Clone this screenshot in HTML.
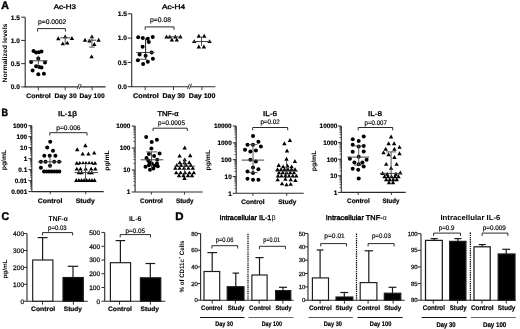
<!DOCTYPE html>
<html><head><meta charset="utf-8"><style>
html,body{margin:0;padding:0;background:#fff;}
svg{display:block;font-family:"Liberation Sans", sans-serif;filter:grayscale(1) blur(0.3px);text-rendering:geometricPrecision;}
</style></head><body>
<svg width="520" height="329" viewBox="0 0 520 329">
<rect width="520" height="329" fill="#fff"/>
<text x="1.30" y="8.70" font-size="10.8" font-weight="bold" fill="#000" textLength="7.70" lengthAdjust="spacingAndGlyphs" stroke="#000" stroke-width="0.45">A</text>
<text x="1.60" y="116.10" font-size="10.6" font-weight="bold" fill="#000" textLength="6.50" lengthAdjust="spacingAndGlyphs" stroke="#000" stroke-width="0.45">B</text>
<text x="1.40" y="219.80" font-size="11.2" font-weight="bold" fill="#000" textLength="7.60" lengthAdjust="spacingAndGlyphs" stroke="#000" stroke-width="0.45">C</text>
<text x="175.30" y="219.60" font-size="10.8" font-weight="bold" fill="#000" textLength="8.30" lengthAdjust="spacingAndGlyphs" stroke="#000" stroke-width="0.45">D</text>
<line x1="25.20" y1="17.15" x2="25.20" y2="86.90" stroke="#2a2a2a" stroke-width="1.1"/>
<line x1="24.70" y1="86.90" x2="105.60" y2="86.90" stroke="#2a2a2a" stroke-width="1.1"/>
<line x1="21.20" y1="86.90" x2="25.20" y2="86.90" stroke="#2a2a2a" stroke-width="1.0"/>
<text x="20.00" y="89.28" font-size="6.6" font-weight="bold" fill="#000" stroke="#000" stroke-width="0.18" text-anchor="end">0.0</text>
<line x1="21.20" y1="63.65" x2="25.20" y2="63.65" stroke="#2a2a2a" stroke-width="1.0"/>
<text x="20.00" y="66.03" font-size="6.6" font-weight="bold" fill="#000" stroke="#000" stroke-width="0.18" text-anchor="end">0.5</text>
<line x1="21.20" y1="40.40" x2="25.20" y2="40.40" stroke="#2a2a2a" stroke-width="1.0"/>
<text x="20.00" y="42.78" font-size="6.6" font-weight="bold" fill="#000" stroke="#000" stroke-width="0.18" text-anchor="end">1.0</text>
<line x1="21.20" y1="17.15" x2="25.20" y2="17.15" stroke="#2a2a2a" stroke-width="1.0"/>
<text x="20.00" y="19.53" font-size="6.6" font-weight="bold" fill="#000" stroke="#000" stroke-width="0.18" text-anchor="end">1.5</text>
<line x1="38.30" y1="86.90" x2="38.30" y2="90.30" stroke="#2a2a2a" stroke-width="0.9"/>
<line x1="65.20" y1="86.90" x2="65.20" y2="90.30" stroke="#2a2a2a" stroke-width="0.9"/>
<line x1="92.10" y1="86.90" x2="92.10" y2="90.30" stroke="#2a2a2a" stroke-width="0.9"/>
<text x="26.20" y="98.20" font-size="6.6" font-weight="bold" fill="#000" textLength="24.60" lengthAdjust="spacingAndGlyphs" stroke="#000" stroke-width="0.2">Control</text>
<text x="54.60" y="98.20" font-size="6.6" font-weight="bold" fill="#000" textLength="22.10" lengthAdjust="spacingAndGlyphs" stroke="#000" stroke-width="0.2">Day 30</text>
<text x="79.60" y="98.20" font-size="6.6" font-weight="bold" fill="#000" textLength="25.00" lengthAdjust="spacingAndGlyphs" stroke="#000" stroke-width="0.2">Day 100</text>
<text x="53.80" y="8.80" font-size="6.6" font-weight="normal" fill="#000" textLength="22.20" lengthAdjust="spacingAndGlyphs" stroke="#000" stroke-width="0.35">Ac-H3</text>
<text x="38.00" y="24.20" font-size="6.7" font-weight="normal" fill="#000" textLength="28.30" lengthAdjust="spacingAndGlyphs" stroke="#000" stroke-width="0.17">p=0.0002</text>
<path d="M37.60 31.50V28.60H65.40V31.50" fill="none" stroke="#2a2a2a" stroke-width="1.0"/>
<path d="M77.70 89.30L79.70 84.10L81.10 84.10L79.10 89.30Z" fill="#fff" stroke="none"/>
<path d="M77.10 89.30L79.30 83.90M79.10 89.30L81.30 83.90" stroke="#333" stroke-width="0.9" fill="none"/>
<circle cx="33.50" cy="51.00" r="2.0" fill="#000"/>
<circle cx="36.10" cy="52.50" r="2.0" fill="#000"/>
<circle cx="38.80" cy="52.30" r="2.0" fill="#000"/>
<circle cx="41.50" cy="51.40" r="2.0" fill="#000"/>
<circle cx="38.30" cy="58.60" r="2.0" fill="#000"/>
<circle cx="31.10" cy="62.10" r="2.0" fill="#000"/>
<circle cx="45.00" cy="62.60" r="2.0" fill="#000"/>
<circle cx="36.10" cy="66.30" r="2.0" fill="#000"/>
<circle cx="39.30" cy="66.90" r="2.0" fill="#000"/>
<circle cx="41.50" cy="67.40" r="2.0" fill="#000"/>
<circle cx="32.60" cy="70.40" r="2.0" fill="#000"/>
<circle cx="38.30" cy="74.30" r="2.0" fill="#000"/>
<circle cx="43.90" cy="73.80" r="2.0" fill="#000"/>
<line x1="29.50" y1="60.80" x2="47.50" y2="60.80" stroke="#444" stroke-width="1.0"/>
<line x1="38.30" y1="55.50" x2="38.30" y2="67.00" stroke="#444" stroke-width="0.9"/>
<path d="M58.30 36.26L60.50 40.16L56.10 40.16Z" fill="#000"/>
<path d="M65.20 34.46L67.40 38.36L63.00 38.36Z" fill="#000"/>
<path d="M71.90 36.06L74.10 39.96L69.70 39.96Z" fill="#000"/>
<path d="M62.80 41.46L65.00 45.36L60.60 45.36Z" fill="#000"/>
<path d="M67.30 40.66L69.50 44.56L65.10 44.56Z" fill="#000"/>
<line x1="60.30" y1="37.80" x2="70.20" y2="37.80" stroke="#444" stroke-width="1.0"/>
<line x1="65.20" y1="36.00" x2="65.20" y2="44.00" stroke="#444" stroke-width="0.9"/>
<path d="M91.90 34.46L94.10 38.36L89.70 38.36Z" fill="#000"/>
<path d="M85.00 37.86L87.20 41.76L82.80 41.76Z" fill="#000"/>
<path d="M98.60 37.86L100.80 41.76L96.40 41.76Z" fill="#000"/>
<path d="M89.50 38.66L91.70 42.56L87.30 42.56Z" fill="#000"/>
<path d="M94.30 42.06L96.50 45.96L92.10 45.96Z" fill="#000"/>
<path d="M91.60 54.46L93.80 58.36L89.40 58.36Z" fill="#000"/>
<line x1="87.70" y1="40.20" x2="96.20" y2="40.20" stroke="#444" stroke-width="1.0"/>
<line x1="91.90" y1="35.50" x2="91.90" y2="47.10" stroke="#444" stroke-width="0.9"/>
<line x1="89.10" y1="47.10" x2="94.70" y2="47.10" stroke="#444" stroke-width="0.9"/>
<line x1="131.70" y1="13.80" x2="131.70" y2="86.70" stroke="#2a2a2a" stroke-width="1.1"/>
<line x1="131.20" y1="86.70" x2="215.40" y2="86.70" stroke="#2a2a2a" stroke-width="1.1"/>
<line x1="127.70" y1="86.70" x2="131.70" y2="86.70" stroke="#2a2a2a" stroke-width="1.0"/>
<text x="127.00" y="89.08" font-size="6.6" font-weight="bold" fill="#000" stroke="#000" stroke-width="0.18" text-anchor="end">0.0</text>
<line x1="127.70" y1="62.40" x2="131.70" y2="62.40" stroke="#2a2a2a" stroke-width="1.0"/>
<text x="127.00" y="64.78" font-size="6.6" font-weight="bold" fill="#000" stroke="#000" stroke-width="0.18" text-anchor="end">0.5</text>
<line x1="127.70" y1="38.10" x2="131.70" y2="38.10" stroke="#2a2a2a" stroke-width="1.0"/>
<text x="127.00" y="40.48" font-size="6.6" font-weight="bold" fill="#000" stroke="#000" stroke-width="0.18" text-anchor="end">1.0</text>
<line x1="127.70" y1="13.80" x2="131.70" y2="13.80" stroke="#2a2a2a" stroke-width="1.0"/>
<text x="127.00" y="16.18" font-size="6.6" font-weight="bold" fill="#000" stroke="#000" stroke-width="0.18" text-anchor="end">1.5</text>
<line x1="145.20" y1="86.70" x2="145.20" y2="90.10" stroke="#2a2a2a" stroke-width="0.9"/>
<line x1="173.50" y1="86.70" x2="173.50" y2="90.10" stroke="#2a2a2a" stroke-width="0.9"/>
<line x1="201.90" y1="86.70" x2="201.90" y2="90.10" stroke="#2a2a2a" stroke-width="0.9"/>
<text x="133.10" y="98.30" font-size="6.8" font-weight="bold" fill="#000" textLength="25.60" lengthAdjust="spacingAndGlyphs" stroke="#000" stroke-width="0.2">Control</text>
<text x="162.50" y="98.30" font-size="6.8" font-weight="bold" fill="#000" textLength="22.50" lengthAdjust="spacingAndGlyphs" stroke="#000" stroke-width="0.2">Day 30</text>
<text x="188.80" y="98.30" font-size="6.8" font-weight="bold" fill="#000" textLength="26.60" lengthAdjust="spacingAndGlyphs" stroke="#000" stroke-width="0.2">Day 100</text>
<text x="162.10" y="8.80" font-size="6.6" font-weight="normal" fill="#000" textLength="23.00" lengthAdjust="spacingAndGlyphs" stroke="#000" stroke-width="0.35">Ac-H4</text>
<text x="150.00" y="22.20" font-size="6.7" font-weight="normal" fill="#000" textLength="21.00" lengthAdjust="spacingAndGlyphs" stroke="#000" stroke-width="0.17">p=0.08</text>
<path d="M145.20 29.80V26.90H174.00V29.80" fill="none" stroke="#2a2a2a" stroke-width="1.0"/>
<path d="M188.00 89.10L190.00 83.90L191.40 83.90L189.40 89.10Z" fill="#fff" stroke="none"/>
<path d="M187.40 89.10L189.60 83.70M189.40 89.10L191.60 83.70" stroke="#333" stroke-width="0.9" fill="none"/>
<circle cx="138.20" cy="37.20" r="2.0" fill="#000"/>
<circle cx="142.80" cy="38.00" r="2.0" fill="#000"/>
<circle cx="147.80" cy="38.80" r="2.0" fill="#000"/>
<circle cx="152.70" cy="36.90" r="2.0" fill="#000"/>
<circle cx="148.80" cy="42.10" r="2.0" fill="#000"/>
<circle cx="142.60" cy="46.80" r="2.0" fill="#000"/>
<circle cx="139.60" cy="54.40" r="2.0" fill="#000"/>
<circle cx="151.60" cy="52.50" r="2.0" fill="#000"/>
<circle cx="145.60" cy="55.80" r="2.0" fill="#000"/>
<circle cx="137.90" cy="60.20" r="2.0" fill="#000"/>
<circle cx="147.80" cy="61.70" r="2.0" fill="#000"/>
<circle cx="152.90" cy="58.80" r="2.0" fill="#000"/>
<circle cx="143.10" cy="63.90" r="2.0" fill="#000"/>
<line x1="136.30" y1="52.50" x2="154.30" y2="52.50" stroke="#444" stroke-width="1.0"/>
<line x1="145.60" y1="38.50" x2="145.60" y2="59.30" stroke="#222" stroke-width="1.0"/>
<line x1="139.60" y1="59.30" x2="147.20" y2="59.30" stroke="#444" stroke-width="0.9"/>
<path d="M166.50 34.56L168.70 38.46L164.30 38.46Z" fill="#000"/>
<path d="M169.80 34.56L172.00 38.46L167.60 38.46Z" fill="#000"/>
<path d="M175.30 34.56L177.50 38.46L173.10 38.46Z" fill="#000"/>
<path d="M180.40 34.56L182.60 38.46L178.20 38.46Z" fill="#000"/>
<path d="M171.90 37.66L174.10 41.56L169.70 41.56Z" fill="#000"/>
<path d="M176.80 37.66L179.00 41.56L174.60 41.56Z" fill="#000"/>
<line x1="166.00" y1="36.90" x2="182.00" y2="36.90" stroke="#444" stroke-width="1.0"/>
<path d="M198.80 33.86L201.00 37.76L196.60 37.76Z" fill="#000"/>
<path d="M204.20 33.86L206.40 37.76L202.00 37.76Z" fill="#000"/>
<path d="M194.20 39.16L196.40 43.06L192.00 43.06Z" fill="#000"/>
<path d="M209.60 39.16L211.80 43.06L207.40 43.06Z" fill="#000"/>
<path d="M198.80 44.56L201.00 48.46L196.60 48.46Z" fill="#000"/>
<path d="M203.90 44.56L206.10 48.46L201.70 48.46Z" fill="#000"/>
<line x1="192.70" y1="41.50" x2="211.20" y2="41.50" stroke="#444" stroke-width="1.0"/>
<line x1="201.50" y1="36.50" x2="201.50" y2="46.00" stroke="#444" stroke-width="0.9"/>
<text transform="translate(6.90,53.00) rotate(-90)" x="-29.50" y="0" font-size="6.5" font-weight="bold" textLength="59.00" lengthAdjust="spacingAndGlyphs">Normalized levels</text>
<line x1="31.80" y1="125.70" x2="31.80" y2="191.60" stroke="#2a2a2a" stroke-width="1.1"/>
<line x1="31.80" y1="191.60" x2="103.70" y2="191.60" stroke="#2a2a2a" stroke-width="1.1"/>
<line x1="28.40" y1="191.60" x2="31.80" y2="191.60" stroke="#2a2a2a" stroke-width="1.0"/>
<text x="27.20" y="193.90" font-size="6.4" font-weight="bold" fill="#000" stroke="#000" stroke-width="0.18" text-anchor="end">0.001</text>
<line x1="30.00" y1="188.29" x2="31.80" y2="188.29" stroke="#2a2a2a" stroke-width="0.7"/>
<line x1="30.00" y1="186.36" x2="31.80" y2="186.36" stroke="#2a2a2a" stroke-width="0.7"/>
<line x1="30.00" y1="184.99" x2="31.80" y2="184.99" stroke="#2a2a2a" stroke-width="0.7"/>
<line x1="30.00" y1="183.92" x2="31.80" y2="183.92" stroke="#2a2a2a" stroke-width="0.7"/>
<line x1="30.00" y1="183.05" x2="31.80" y2="183.05" stroke="#2a2a2a" stroke-width="0.7"/>
<line x1="30.00" y1="182.32" x2="31.80" y2="182.32" stroke="#2a2a2a" stroke-width="0.7"/>
<line x1="30.00" y1="181.68" x2="31.80" y2="181.68" stroke="#2a2a2a" stroke-width="0.7"/>
<line x1="30.00" y1="181.12" x2="31.80" y2="181.12" stroke="#2a2a2a" stroke-width="0.7"/>
<line x1="28.40" y1="180.62" x2="31.80" y2="180.62" stroke="#2a2a2a" stroke-width="1.0"/>
<text x="27.20" y="182.92" font-size="6.4" font-weight="bold" fill="#000" stroke="#000" stroke-width="0.18" text-anchor="end">0.01</text>
<line x1="30.00" y1="177.31" x2="31.80" y2="177.31" stroke="#2a2a2a" stroke-width="0.7"/>
<line x1="30.00" y1="175.38" x2="31.80" y2="175.38" stroke="#2a2a2a" stroke-width="0.7"/>
<line x1="30.00" y1="174.00" x2="31.80" y2="174.00" stroke="#2a2a2a" stroke-width="0.7"/>
<line x1="30.00" y1="172.94" x2="31.80" y2="172.94" stroke="#2a2a2a" stroke-width="0.7"/>
<line x1="30.00" y1="172.07" x2="31.80" y2="172.07" stroke="#2a2a2a" stroke-width="0.7"/>
<line x1="30.00" y1="171.33" x2="31.80" y2="171.33" stroke="#2a2a2a" stroke-width="0.7"/>
<line x1="30.00" y1="170.70" x2="31.80" y2="170.70" stroke="#2a2a2a" stroke-width="0.7"/>
<line x1="30.00" y1="170.14" x2="31.80" y2="170.14" stroke="#2a2a2a" stroke-width="0.7"/>
<line x1="28.40" y1="169.63" x2="31.80" y2="169.63" stroke="#2a2a2a" stroke-width="1.0"/>
<text x="27.20" y="171.94" font-size="6.4" font-weight="bold" fill="#000" stroke="#000" stroke-width="0.18" text-anchor="end">0.1</text>
<line x1="30.00" y1="166.33" x2="31.80" y2="166.33" stroke="#2a2a2a" stroke-width="0.7"/>
<line x1="30.00" y1="164.39" x2="31.80" y2="164.39" stroke="#2a2a2a" stroke-width="0.7"/>
<line x1="30.00" y1="163.02" x2="31.80" y2="163.02" stroke="#2a2a2a" stroke-width="0.7"/>
<line x1="30.00" y1="161.96" x2="31.80" y2="161.96" stroke="#2a2a2a" stroke-width="0.7"/>
<line x1="30.00" y1="161.09" x2="31.80" y2="161.09" stroke="#2a2a2a" stroke-width="0.7"/>
<line x1="30.00" y1="160.35" x2="31.80" y2="160.35" stroke="#2a2a2a" stroke-width="0.7"/>
<line x1="30.00" y1="159.71" x2="31.80" y2="159.71" stroke="#2a2a2a" stroke-width="0.7"/>
<line x1="30.00" y1="159.15" x2="31.80" y2="159.15" stroke="#2a2a2a" stroke-width="0.7"/>
<line x1="28.40" y1="158.65" x2="31.80" y2="158.65" stroke="#2a2a2a" stroke-width="1.0"/>
<text x="27.20" y="160.95" font-size="6.4" font-weight="bold" fill="#000" stroke="#000" stroke-width="0.18" text-anchor="end">1</text>
<line x1="30.00" y1="155.34" x2="31.80" y2="155.34" stroke="#2a2a2a" stroke-width="0.7"/>
<line x1="30.00" y1="153.41" x2="31.80" y2="153.41" stroke="#2a2a2a" stroke-width="0.7"/>
<line x1="30.00" y1="152.04" x2="31.80" y2="152.04" stroke="#2a2a2a" stroke-width="0.7"/>
<line x1="30.00" y1="150.97" x2="31.80" y2="150.97" stroke="#2a2a2a" stroke-width="0.7"/>
<line x1="30.00" y1="150.10" x2="31.80" y2="150.10" stroke="#2a2a2a" stroke-width="0.7"/>
<line x1="30.00" y1="149.37" x2="31.80" y2="149.37" stroke="#2a2a2a" stroke-width="0.7"/>
<line x1="30.00" y1="148.73" x2="31.80" y2="148.73" stroke="#2a2a2a" stroke-width="0.7"/>
<line x1="30.00" y1="148.17" x2="31.80" y2="148.17" stroke="#2a2a2a" stroke-width="0.7"/>
<line x1="28.40" y1="147.67" x2="31.80" y2="147.67" stroke="#2a2a2a" stroke-width="1.0"/>
<text x="27.20" y="149.97" font-size="6.4" font-weight="bold" fill="#000" stroke="#000" stroke-width="0.18" text-anchor="end">10</text>
<line x1="30.00" y1="144.36" x2="31.80" y2="144.36" stroke="#2a2a2a" stroke-width="0.7"/>
<line x1="30.00" y1="142.43" x2="31.80" y2="142.43" stroke="#2a2a2a" stroke-width="0.7"/>
<line x1="30.00" y1="141.05" x2="31.80" y2="141.05" stroke="#2a2a2a" stroke-width="0.7"/>
<line x1="30.00" y1="139.99" x2="31.80" y2="139.99" stroke="#2a2a2a" stroke-width="0.7"/>
<line x1="30.00" y1="139.12" x2="31.80" y2="139.12" stroke="#2a2a2a" stroke-width="0.7"/>
<line x1="30.00" y1="138.38" x2="31.80" y2="138.38" stroke="#2a2a2a" stroke-width="0.7"/>
<line x1="30.00" y1="137.75" x2="31.80" y2="137.75" stroke="#2a2a2a" stroke-width="0.7"/>
<line x1="30.00" y1="137.19" x2="31.80" y2="137.19" stroke="#2a2a2a" stroke-width="0.7"/>
<line x1="28.40" y1="136.68" x2="31.80" y2="136.68" stroke="#2a2a2a" stroke-width="1.0"/>
<text x="27.20" y="138.99" font-size="6.4" font-weight="bold" fill="#000" stroke="#000" stroke-width="0.18" text-anchor="end">100</text>
<line x1="30.00" y1="133.38" x2="31.80" y2="133.38" stroke="#2a2a2a" stroke-width="0.7"/>
<line x1="30.00" y1="131.44" x2="31.80" y2="131.44" stroke="#2a2a2a" stroke-width="0.7"/>
<line x1="30.00" y1="130.07" x2="31.80" y2="130.07" stroke="#2a2a2a" stroke-width="0.7"/>
<line x1="30.00" y1="129.01" x2="31.80" y2="129.01" stroke="#2a2a2a" stroke-width="0.7"/>
<line x1="30.00" y1="128.14" x2="31.80" y2="128.14" stroke="#2a2a2a" stroke-width="0.7"/>
<line x1="30.00" y1="127.40" x2="31.80" y2="127.40" stroke="#2a2a2a" stroke-width="0.7"/>
<line x1="30.00" y1="126.76" x2="31.80" y2="126.76" stroke="#2a2a2a" stroke-width="0.7"/>
<line x1="30.00" y1="126.20" x2="31.80" y2="126.20" stroke="#2a2a2a" stroke-width="0.7"/>
<line x1="28.40" y1="125.70" x2="31.80" y2="125.70" stroke="#2a2a2a" stroke-width="1.0"/>
<text x="27.20" y="128.00" font-size="6.4" font-weight="bold" fill="#000" stroke="#000" stroke-width="0.18" text-anchor="end">1000</text>
<line x1="50.30" y1="191.60" x2="50.30" y2="194.20" stroke="#2a2a2a" stroke-width="0.9"/>
<line x1="85.70" y1="191.60" x2="85.70" y2="194.20" stroke="#2a2a2a" stroke-width="0.9"/>
<text x="37.70" y="203.00" font-size="6.6" font-weight="bold" fill="#000" textLength="24.70" lengthAdjust="spacingAndGlyphs" stroke="#000" stroke-width="0.2">Control</text>
<text x="75.70" y="203.00" font-size="6.6" font-weight="bold" fill="#000" textLength="19.10" lengthAdjust="spacingAndGlyphs" stroke="#000" stroke-width="0.2">Study</text>
<text x="57.90" y="116.40" font-size="7.0" font-weight="normal" fill="#000" textLength="19.00" lengthAdjust="spacingAndGlyphs" stroke="#000" stroke-width="0.35">IL-1&#946;</text>
<text x="56.20" y="129.70" font-size="6.6" font-weight="normal" fill="#000" textLength="24.40" lengthAdjust="spacingAndGlyphs" stroke="#000" stroke-width="0.17">p=0.006</text>
<path d="M49.80 135.50V132.70H87.00V135.50" fill="none" stroke="#2a2a2a" stroke-width="1.0"/>
<text transform="translate(6.00,160.00) rotate(-90)" x="-10.30" y="0" font-size="6.5" font-weight="bold" textLength="20.60" lengthAdjust="spacingAndGlyphs">pg/mL</text>
<line x1="135.10" y1="126.00" x2="135.10" y2="192.00" stroke="#2a2a2a" stroke-width="1.1"/>
<line x1="135.10" y1="192.00" x2="202.70" y2="192.00" stroke="#2a2a2a" stroke-width="1.1"/>
<line x1="131.70" y1="192.00" x2="135.10" y2="192.00" stroke="#2a2a2a" stroke-width="1.0"/>
<text x="130.40" y="194.30" font-size="6.4" font-weight="bold" fill="#000" stroke="#000" stroke-width="0.18" text-anchor="end">1</text>
<line x1="133.30" y1="185.38" x2="135.10" y2="185.38" stroke="#2a2a2a" stroke-width="0.7"/>
<line x1="133.30" y1="181.50" x2="135.10" y2="181.50" stroke="#2a2a2a" stroke-width="0.7"/>
<line x1="133.30" y1="178.75" x2="135.10" y2="178.75" stroke="#2a2a2a" stroke-width="0.7"/>
<line x1="133.30" y1="176.62" x2="135.10" y2="176.62" stroke="#2a2a2a" stroke-width="0.7"/>
<line x1="133.30" y1="174.88" x2="135.10" y2="174.88" stroke="#2a2a2a" stroke-width="0.7"/>
<line x1="133.30" y1="173.41" x2="135.10" y2="173.41" stroke="#2a2a2a" stroke-width="0.7"/>
<line x1="133.30" y1="172.13" x2="135.10" y2="172.13" stroke="#2a2a2a" stroke-width="0.7"/>
<line x1="133.30" y1="171.01" x2="135.10" y2="171.01" stroke="#2a2a2a" stroke-width="0.7"/>
<line x1="131.70" y1="170.00" x2="135.10" y2="170.00" stroke="#2a2a2a" stroke-width="1.0"/>
<text x="130.40" y="172.30" font-size="6.4" font-weight="bold" fill="#000" stroke="#000" stroke-width="0.18" text-anchor="end">10</text>
<line x1="133.30" y1="163.38" x2="135.10" y2="163.38" stroke="#2a2a2a" stroke-width="0.7"/>
<line x1="133.30" y1="159.50" x2="135.10" y2="159.50" stroke="#2a2a2a" stroke-width="0.7"/>
<line x1="133.30" y1="156.75" x2="135.10" y2="156.75" stroke="#2a2a2a" stroke-width="0.7"/>
<line x1="133.30" y1="154.62" x2="135.10" y2="154.62" stroke="#2a2a2a" stroke-width="0.7"/>
<line x1="133.30" y1="152.88" x2="135.10" y2="152.88" stroke="#2a2a2a" stroke-width="0.7"/>
<line x1="133.30" y1="151.41" x2="135.10" y2="151.41" stroke="#2a2a2a" stroke-width="0.7"/>
<line x1="133.30" y1="150.13" x2="135.10" y2="150.13" stroke="#2a2a2a" stroke-width="0.7"/>
<line x1="133.30" y1="149.01" x2="135.10" y2="149.01" stroke="#2a2a2a" stroke-width="0.7"/>
<line x1="131.70" y1="148.00" x2="135.10" y2="148.00" stroke="#2a2a2a" stroke-width="1.0"/>
<text x="130.40" y="150.30" font-size="6.4" font-weight="bold" fill="#000" stroke="#000" stroke-width="0.18" text-anchor="end">100</text>
<line x1="133.30" y1="141.38" x2="135.10" y2="141.38" stroke="#2a2a2a" stroke-width="0.7"/>
<line x1="133.30" y1="137.50" x2="135.10" y2="137.50" stroke="#2a2a2a" stroke-width="0.7"/>
<line x1="133.30" y1="134.75" x2="135.10" y2="134.75" stroke="#2a2a2a" stroke-width="0.7"/>
<line x1="133.30" y1="132.62" x2="135.10" y2="132.62" stroke="#2a2a2a" stroke-width="0.7"/>
<line x1="133.30" y1="130.88" x2="135.10" y2="130.88" stroke="#2a2a2a" stroke-width="0.7"/>
<line x1="133.30" y1="129.41" x2="135.10" y2="129.41" stroke="#2a2a2a" stroke-width="0.7"/>
<line x1="133.30" y1="128.13" x2="135.10" y2="128.13" stroke="#2a2a2a" stroke-width="0.7"/>
<line x1="133.30" y1="127.01" x2="135.10" y2="127.01" stroke="#2a2a2a" stroke-width="0.7"/>
<line x1="131.70" y1="126.00" x2="135.10" y2="126.00" stroke="#2a2a2a" stroke-width="1.0"/>
<text x="130.40" y="128.30" font-size="6.4" font-weight="bold" fill="#000" stroke="#000" stroke-width="0.18" text-anchor="end">1000</text>
<line x1="151.30" y1="192.00" x2="151.30" y2="194.60" stroke="#2a2a2a" stroke-width="0.9"/>
<line x1="184.50" y1="192.00" x2="184.50" y2="194.60" stroke="#2a2a2a" stroke-width="0.9"/>
<text x="140.00" y="203.00" font-size="6.6" font-weight="bold" fill="#000" textLength="22.90" lengthAdjust="spacingAndGlyphs" stroke="#000" stroke-width="0.2">Control</text>
<text x="176.00" y="203.00" font-size="6.6" font-weight="bold" fill="#000" textLength="17.60" lengthAdjust="spacingAndGlyphs" stroke="#000" stroke-width="0.2">Study</text>
<text x="157.50" y="116.40" font-size="7.0" font-weight="normal" fill="#000" textLength="21.10" lengthAdjust="spacingAndGlyphs" stroke="#000" stroke-width="0.35">TNF-&#945;</text>
<text x="158.10" y="124.80" font-size="6.6" font-weight="normal" fill="#000" textLength="26.90" lengthAdjust="spacingAndGlyphs" stroke="#000" stroke-width="0.17">p=0.0005</text>
<path d="M153.10 131.00V128.20H187.30V131.00" fill="none" stroke="#2a2a2a" stroke-width="1.0"/>
<text transform="translate(109.20,160.50) rotate(-90)" x="-10.30" y="0" font-size="6.5" font-weight="bold" textLength="20.60" lengthAdjust="spacingAndGlyphs">pg/mL</text>
<line x1="236.20" y1="126.00" x2="236.20" y2="193.30" stroke="#2a2a2a" stroke-width="1.1"/>
<line x1="236.20" y1="193.30" x2="303.70" y2="193.30" stroke="#2a2a2a" stroke-width="1.1"/>
<line x1="232.80" y1="193.30" x2="236.20" y2="193.30" stroke="#2a2a2a" stroke-width="1.0"/>
<text x="231.70" y="195.60" font-size="6.4" font-weight="bold" fill="#000" stroke="#000" stroke-width="0.18" text-anchor="end">1</text>
<line x1="234.40" y1="188.24" x2="236.20" y2="188.24" stroke="#2a2a2a" stroke-width="0.7"/>
<line x1="234.40" y1="185.27" x2="236.20" y2="185.27" stroke="#2a2a2a" stroke-width="0.7"/>
<line x1="234.40" y1="183.17" x2="236.20" y2="183.17" stroke="#2a2a2a" stroke-width="0.7"/>
<line x1="234.40" y1="181.54" x2="236.20" y2="181.54" stroke="#2a2a2a" stroke-width="0.7"/>
<line x1="234.40" y1="180.21" x2="236.20" y2="180.21" stroke="#2a2a2a" stroke-width="0.7"/>
<line x1="234.40" y1="179.08" x2="236.20" y2="179.08" stroke="#2a2a2a" stroke-width="0.7"/>
<line x1="234.40" y1="178.11" x2="236.20" y2="178.11" stroke="#2a2a2a" stroke-width="0.7"/>
<line x1="234.40" y1="177.24" x2="236.20" y2="177.24" stroke="#2a2a2a" stroke-width="0.7"/>
<line x1="232.80" y1="176.48" x2="236.20" y2="176.48" stroke="#2a2a2a" stroke-width="1.0"/>
<text x="231.70" y="178.78" font-size="6.4" font-weight="bold" fill="#000" stroke="#000" stroke-width="0.18" text-anchor="end">10</text>
<line x1="234.40" y1="171.41" x2="236.20" y2="171.41" stroke="#2a2a2a" stroke-width="0.7"/>
<line x1="234.40" y1="168.45" x2="236.20" y2="168.45" stroke="#2a2a2a" stroke-width="0.7"/>
<line x1="234.40" y1="166.35" x2="236.20" y2="166.35" stroke="#2a2a2a" stroke-width="0.7"/>
<line x1="234.40" y1="164.71" x2="236.20" y2="164.71" stroke="#2a2a2a" stroke-width="0.7"/>
<line x1="234.40" y1="163.38" x2="236.20" y2="163.38" stroke="#2a2a2a" stroke-width="0.7"/>
<line x1="234.40" y1="162.26" x2="236.20" y2="162.26" stroke="#2a2a2a" stroke-width="0.7"/>
<line x1="234.40" y1="161.28" x2="236.20" y2="161.28" stroke="#2a2a2a" stroke-width="0.7"/>
<line x1="234.40" y1="160.42" x2="236.20" y2="160.42" stroke="#2a2a2a" stroke-width="0.7"/>
<line x1="232.80" y1="159.65" x2="236.20" y2="159.65" stroke="#2a2a2a" stroke-width="1.0"/>
<text x="231.70" y="161.95" font-size="6.4" font-weight="bold" fill="#000" stroke="#000" stroke-width="0.18" text-anchor="end">100</text>
<line x1="234.40" y1="154.59" x2="236.20" y2="154.59" stroke="#2a2a2a" stroke-width="0.7"/>
<line x1="234.40" y1="151.62" x2="236.20" y2="151.62" stroke="#2a2a2a" stroke-width="0.7"/>
<line x1="234.40" y1="149.52" x2="236.20" y2="149.52" stroke="#2a2a2a" stroke-width="0.7"/>
<line x1="234.40" y1="147.89" x2="236.20" y2="147.89" stroke="#2a2a2a" stroke-width="0.7"/>
<line x1="234.40" y1="146.56" x2="236.20" y2="146.56" stroke="#2a2a2a" stroke-width="0.7"/>
<line x1="234.40" y1="145.43" x2="236.20" y2="145.43" stroke="#2a2a2a" stroke-width="0.7"/>
<line x1="234.40" y1="144.46" x2="236.20" y2="144.46" stroke="#2a2a2a" stroke-width="0.7"/>
<line x1="234.40" y1="143.59" x2="236.20" y2="143.59" stroke="#2a2a2a" stroke-width="0.7"/>
<line x1="232.80" y1="142.82" x2="236.20" y2="142.82" stroke="#2a2a2a" stroke-width="1.0"/>
<text x="231.70" y="145.13" font-size="6.4" font-weight="bold" fill="#000" stroke="#000" stroke-width="0.18" text-anchor="end">1000</text>
<line x1="234.40" y1="137.76" x2="236.20" y2="137.76" stroke="#2a2a2a" stroke-width="0.7"/>
<line x1="234.40" y1="134.80" x2="236.20" y2="134.80" stroke="#2a2a2a" stroke-width="0.7"/>
<line x1="234.40" y1="132.70" x2="236.20" y2="132.70" stroke="#2a2a2a" stroke-width="0.7"/>
<line x1="234.40" y1="131.06" x2="236.20" y2="131.06" stroke="#2a2a2a" stroke-width="0.7"/>
<line x1="234.40" y1="129.73" x2="236.20" y2="129.73" stroke="#2a2a2a" stroke-width="0.7"/>
<line x1="234.40" y1="128.61" x2="236.20" y2="128.61" stroke="#2a2a2a" stroke-width="0.7"/>
<line x1="234.40" y1="127.63" x2="236.20" y2="127.63" stroke="#2a2a2a" stroke-width="0.7"/>
<line x1="234.40" y1="126.77" x2="236.20" y2="126.77" stroke="#2a2a2a" stroke-width="0.7"/>
<line x1="232.80" y1="126.00" x2="236.20" y2="126.00" stroke="#2a2a2a" stroke-width="1.0"/>
<text x="231.70" y="128.30" font-size="6.4" font-weight="bold" fill="#000" stroke="#000" stroke-width="0.18" text-anchor="end">10000</text>
<line x1="252.90" y1="193.30" x2="252.90" y2="195.90" stroke="#2a2a2a" stroke-width="0.9"/>
<line x1="286.70" y1="193.30" x2="286.70" y2="195.90" stroke="#2a2a2a" stroke-width="0.9"/>
<text x="241.30" y="204.00" font-size="6.6" font-weight="bold" fill="#000" textLength="23.20" lengthAdjust="spacingAndGlyphs" stroke="#000" stroke-width="0.2">Control</text>
<text x="278.30" y="204.00" font-size="6.6" font-weight="bold" fill="#000" textLength="18.00" lengthAdjust="spacingAndGlyphs" stroke="#000" stroke-width="0.2">Study</text>
<text x="263.10" y="116.40" font-size="7.0" font-weight="normal" fill="#000" textLength="14.00" lengthAdjust="spacingAndGlyphs" stroke="#000" stroke-width="0.35">IL-6</text>
<text x="260.40" y="124.40" font-size="6.6" font-weight="normal" fill="#000" textLength="19.20" lengthAdjust="spacingAndGlyphs" stroke="#000" stroke-width="0.17">p=0.02</text>
<path d="M252.70 130.30V127.50H287.70V130.30" fill="none" stroke="#2a2a2a" stroke-width="1.0"/>
<text transform="translate(210.30,160.20) rotate(-90)" x="-10.30" y="0" font-size="6.5" font-weight="bold" textLength="20.60" lengthAdjust="spacingAndGlyphs">pg/mL</text>
<line x1="341.30" y1="126.00" x2="341.30" y2="192.40" stroke="#2a2a2a" stroke-width="1.1"/>
<line x1="341.30" y1="192.40" x2="405.80" y2="192.40" stroke="#2a2a2a" stroke-width="1.1"/>
<line x1="337.90" y1="192.40" x2="341.30" y2="192.40" stroke="#2a2a2a" stroke-width="1.0"/>
<text x="337.40" y="194.70" font-size="6.4" font-weight="bold" fill="#000" stroke="#000" stroke-width="0.18" text-anchor="end">1</text>
<line x1="339.50" y1="187.40" x2="341.30" y2="187.40" stroke="#2a2a2a" stroke-width="0.7"/>
<line x1="339.50" y1="184.48" x2="341.30" y2="184.48" stroke="#2a2a2a" stroke-width="0.7"/>
<line x1="339.50" y1="182.41" x2="341.30" y2="182.41" stroke="#2a2a2a" stroke-width="0.7"/>
<line x1="339.50" y1="180.80" x2="341.30" y2="180.80" stroke="#2a2a2a" stroke-width="0.7"/>
<line x1="339.50" y1="179.48" x2="341.30" y2="179.48" stroke="#2a2a2a" stroke-width="0.7"/>
<line x1="339.50" y1="178.37" x2="341.30" y2="178.37" stroke="#2a2a2a" stroke-width="0.7"/>
<line x1="339.50" y1="177.41" x2="341.30" y2="177.41" stroke="#2a2a2a" stroke-width="0.7"/>
<line x1="339.50" y1="176.56" x2="341.30" y2="176.56" stroke="#2a2a2a" stroke-width="0.7"/>
<line x1="337.90" y1="175.80" x2="341.30" y2="175.80" stroke="#2a2a2a" stroke-width="1.0"/>
<text x="337.40" y="178.10" font-size="6.4" font-weight="bold" fill="#000" stroke="#000" stroke-width="0.18" text-anchor="end">10</text>
<line x1="339.50" y1="170.80" x2="341.30" y2="170.80" stroke="#2a2a2a" stroke-width="0.7"/>
<line x1="339.50" y1="167.88" x2="341.30" y2="167.88" stroke="#2a2a2a" stroke-width="0.7"/>
<line x1="339.50" y1="165.81" x2="341.30" y2="165.81" stroke="#2a2a2a" stroke-width="0.7"/>
<line x1="339.50" y1="164.20" x2="341.30" y2="164.20" stroke="#2a2a2a" stroke-width="0.7"/>
<line x1="339.50" y1="162.88" x2="341.30" y2="162.88" stroke="#2a2a2a" stroke-width="0.7"/>
<line x1="339.50" y1="161.77" x2="341.30" y2="161.77" stroke="#2a2a2a" stroke-width="0.7"/>
<line x1="339.50" y1="160.81" x2="341.30" y2="160.81" stroke="#2a2a2a" stroke-width="0.7"/>
<line x1="339.50" y1="159.96" x2="341.30" y2="159.96" stroke="#2a2a2a" stroke-width="0.7"/>
<line x1="337.90" y1="159.20" x2="341.30" y2="159.20" stroke="#2a2a2a" stroke-width="1.0"/>
<text x="337.40" y="161.50" font-size="6.4" font-weight="bold" fill="#000" stroke="#000" stroke-width="0.18" text-anchor="end">100</text>
<line x1="339.50" y1="154.20" x2="341.30" y2="154.20" stroke="#2a2a2a" stroke-width="0.7"/>
<line x1="339.50" y1="151.28" x2="341.30" y2="151.28" stroke="#2a2a2a" stroke-width="0.7"/>
<line x1="339.50" y1="149.21" x2="341.30" y2="149.21" stroke="#2a2a2a" stroke-width="0.7"/>
<line x1="339.50" y1="147.60" x2="341.30" y2="147.60" stroke="#2a2a2a" stroke-width="0.7"/>
<line x1="339.50" y1="146.28" x2="341.30" y2="146.28" stroke="#2a2a2a" stroke-width="0.7"/>
<line x1="339.50" y1="145.17" x2="341.30" y2="145.17" stroke="#2a2a2a" stroke-width="0.7"/>
<line x1="339.50" y1="144.21" x2="341.30" y2="144.21" stroke="#2a2a2a" stroke-width="0.7"/>
<line x1="339.50" y1="143.36" x2="341.30" y2="143.36" stroke="#2a2a2a" stroke-width="0.7"/>
<line x1="337.90" y1="142.60" x2="341.30" y2="142.60" stroke="#2a2a2a" stroke-width="1.0"/>
<text x="337.40" y="144.90" font-size="6.4" font-weight="bold" fill="#000" stroke="#000" stroke-width="0.18" text-anchor="end">1000</text>
<line x1="339.50" y1="137.60" x2="341.30" y2="137.60" stroke="#2a2a2a" stroke-width="0.7"/>
<line x1="339.50" y1="134.68" x2="341.30" y2="134.68" stroke="#2a2a2a" stroke-width="0.7"/>
<line x1="339.50" y1="132.61" x2="341.30" y2="132.61" stroke="#2a2a2a" stroke-width="0.7"/>
<line x1="339.50" y1="131.00" x2="341.30" y2="131.00" stroke="#2a2a2a" stroke-width="0.7"/>
<line x1="339.50" y1="129.68" x2="341.30" y2="129.68" stroke="#2a2a2a" stroke-width="0.7"/>
<line x1="339.50" y1="128.57" x2="341.30" y2="128.57" stroke="#2a2a2a" stroke-width="0.7"/>
<line x1="339.50" y1="127.61" x2="341.30" y2="127.61" stroke="#2a2a2a" stroke-width="0.7"/>
<line x1="339.50" y1="126.76" x2="341.30" y2="126.76" stroke="#2a2a2a" stroke-width="0.7"/>
<line x1="337.90" y1="126.00" x2="341.30" y2="126.00" stroke="#2a2a2a" stroke-width="1.0"/>
<text x="337.40" y="128.30" font-size="6.4" font-weight="bold" fill="#000" stroke="#000" stroke-width="0.18" text-anchor="end">10000</text>
<line x1="358.20" y1="192.40" x2="358.20" y2="195.00" stroke="#2a2a2a" stroke-width="0.9"/>
<line x1="391.40" y1="192.40" x2="391.40" y2="195.00" stroke="#2a2a2a" stroke-width="0.9"/>
<text x="347.00" y="203.00" font-size="6.6" font-weight="bold" fill="#000" textLength="22.80" lengthAdjust="spacingAndGlyphs" stroke="#000" stroke-width="0.2">Control</text>
<text x="382.50" y="203.00" font-size="6.6" font-weight="bold" fill="#000" textLength="16.90" lengthAdjust="spacingAndGlyphs" stroke="#000" stroke-width="0.2">Study</text>
<text x="368.10" y="116.40" font-size="7.0" font-weight="normal" fill="#000" textLength="14.00" lengthAdjust="spacingAndGlyphs" stroke="#000" stroke-width="0.35">IL-8</text>
<text x="364.60" y="124.60" font-size="6.6" font-weight="normal" fill="#000" textLength="22.30" lengthAdjust="spacingAndGlyphs" stroke="#000" stroke-width="0.17">p=0.007</text>
<path d="M358.20 130.30V127.50H392.70V130.30" fill="none" stroke="#2a2a2a" stroke-width="1.0"/>
<text transform="translate(315.60,160.90) rotate(-90)" x="-10.30" y="0" font-size="6.5" font-weight="bold" textLength="20.60" lengthAdjust="spacingAndGlyphs">pg/mL</text>
<circle cx="50.20" cy="141.80" r="2.0" fill="#000"/>
<circle cx="47.20" cy="147.50" r="2.0" fill="#000"/>
<circle cx="53.00" cy="150.80" r="2.0" fill="#000"/>
<circle cx="44.30" cy="155.70" r="2.0" fill="#000"/>
<circle cx="49.70" cy="155.70" r="2.0" fill="#000"/>
<circle cx="55.40" cy="155.70" r="2.0" fill="#000"/>
<circle cx="40.90" cy="161.80" r="2.0" fill="#000"/>
<circle cx="45.50" cy="161.80" r="2.0" fill="#000"/>
<circle cx="54.20" cy="161.80" r="2.0" fill="#000"/>
<circle cx="59.10" cy="161.80" r="2.0" fill="#000"/>
<circle cx="50.00" cy="165.80" r="2.0" fill="#000"/>
<circle cx="40.90" cy="167.80" r="2.0" fill="#000"/>
<circle cx="44.00" cy="171.50" r="2.0" fill="#000"/>
<circle cx="46.55" cy="171.50" r="2.0" fill="#000"/>
<circle cx="49.10" cy="171.50" r="2.0" fill="#000"/>
<circle cx="51.65" cy="171.50" r="2.0" fill="#000"/>
<circle cx="54.20" cy="171.50" r="2.0" fill="#000"/>
<circle cx="56.75" cy="171.50" r="2.0" fill="#000"/>
<circle cx="59.30" cy="171.50" r="2.0" fill="#000"/>
<line x1="37.80" y1="161.80" x2="62.10" y2="161.80" stroke="#444" stroke-width="1.0"/>
<line x1="50.00" y1="155.70" x2="50.00" y2="167.50" stroke="#444" stroke-width="0.9"/>
<path d="M85.40 143.36L87.60 147.26L83.20 147.26Z" fill="#000"/>
<path d="M77.20 147.26L79.40 151.16L75.00 151.16Z" fill="#000"/>
<path d="M82.70 151.66L84.90 155.56L80.50 155.56Z" fill="#000"/>
<path d="M88.40 151.66L90.60 155.56L86.20 155.56Z" fill="#000"/>
<path d="M94.20 150.66L96.40 154.56L92.00 154.56Z" fill="#000"/>
<path d="M76.80 160.96L79.00 164.86L74.60 164.86Z" fill="#000"/>
<path d="M79.80 160.96L82.00 164.86L77.60 164.86Z" fill="#000"/>
<path d="M83.00 160.96L85.20 164.86L80.80 164.86Z" fill="#000"/>
<path d="M86.00 160.96L88.20 164.86L83.80 164.86Z" fill="#000"/>
<path d="M89.10 160.96L91.30 164.86L86.90 164.86Z" fill="#000"/>
<path d="M92.00 160.96L94.20 164.86L89.80 164.86Z" fill="#000"/>
<path d="M95.00 160.96L97.20 164.86L92.80 164.86Z" fill="#000"/>
<path d="M76.80 166.66L79.00 170.56L74.60 170.56Z" fill="#000"/>
<path d="M80.50 166.66L82.70 170.56L78.30 170.56Z" fill="#000"/>
<path d="M85.70 166.66L87.90 170.56L83.50 170.56Z" fill="#000"/>
<path d="M91.20 166.66L93.40 170.56L89.00 170.56Z" fill="#000"/>
<path d="M95.30 166.66L97.50 170.56L93.10 170.56Z" fill="#000"/>
<path d="M78.80 170.46L81.00 174.36L76.60 174.36Z" fill="#000"/>
<path d="M81.60 170.46L83.80 174.36L79.40 174.36Z" fill="#000"/>
<path d="M89.10 170.46L91.30 174.36L86.90 174.36Z" fill="#000"/>
<path d="M91.80 170.46L94.00 174.36L89.60 174.36Z" fill="#000"/>
<path d="M76.30 178.06L78.50 181.96L74.10 181.96Z" fill="#000"/>
<path d="M78.90 178.06L81.10 181.96L76.70 181.96Z" fill="#000"/>
<path d="M81.50 178.06L83.70 181.96L79.30 181.96Z" fill="#000"/>
<path d="M84.10 178.06L86.30 181.96L81.90 181.96Z" fill="#000"/>
<path d="M86.70 178.06L88.90 181.96L84.50 181.96Z" fill="#000"/>
<path d="M89.30 178.06L91.50 181.96L87.10 181.96Z" fill="#000"/>
<path d="M91.90 178.06L94.10 181.96L89.70 181.96Z" fill="#000"/>
<path d="M94.50 178.06L96.70 181.96L92.30 181.96Z" fill="#000"/>
<line x1="74.50" y1="172.60" x2="98.00" y2="172.60" stroke="#444" stroke-width="1.0"/>
<line x1="80.00" y1="164.60" x2="92.00" y2="164.60" stroke="#fff" stroke-width="0.9"/>
<line x1="85.50" y1="164.50" x2="85.50" y2="180.50" stroke="#444" stroke-width="0.9"/>
<circle cx="146.20" cy="137.10" r="2.0" fill="#000"/>
<circle cx="151.70" cy="142.00" r="2.0" fill="#000"/>
<circle cx="156.90" cy="139.80" r="2.0" fill="#000"/>
<circle cx="151.40" cy="148.50" r="2.0" fill="#000"/>
<circle cx="148.90" cy="153.90" r="2.0" fill="#000"/>
<circle cx="154.10" cy="156.00" r="2.0" fill="#000"/>
<circle cx="159.60" cy="153.50" r="2.0" fill="#000"/>
<circle cx="146.50" cy="158.00" r="2.0" fill="#000"/>
<circle cx="148.30" cy="160.40" r="2.0" fill="#000"/>
<circle cx="157.20" cy="159.80" r="2.0" fill="#000"/>
<circle cx="149.50" cy="162.50" r="2.0" fill="#000"/>
<circle cx="151.70" cy="163.40" r="2.0" fill="#000"/>
<circle cx="156.90" cy="163.50" r="2.0" fill="#000"/>
<circle cx="145.50" cy="166.70" r="2.0" fill="#000"/>
<circle cx="148.90" cy="165.30" r="2.0" fill="#000"/>
<circle cx="154.40" cy="165.80" r="2.0" fill="#000"/>
<circle cx="157.80" cy="166.30" r="2.0" fill="#000"/>
<circle cx="150.00" cy="169.70" r="2.0" fill="#000"/>
<circle cx="153.30" cy="168.60" r="2.0" fill="#000"/>
<line x1="140.70" y1="159.80" x2="163.30" y2="159.80" stroke="#444" stroke-width="1.0"/>
<line x1="146.20" y1="151.90" x2="157.20" y2="151.90" stroke="#444" stroke-width="0.9"/>
<line x1="151.50" y1="151.90" x2="151.50" y2="170.00" stroke="#444" stroke-width="0.9"/>
<path d="M184.70 145.56L186.90 149.46L182.50 149.46Z" fill="#000"/>
<path d="M179.60 153.66L181.80 157.56L177.40 157.56Z" fill="#000"/>
<path d="M190.20 153.26L192.40 157.16L188.00 157.16Z" fill="#000"/>
<path d="M184.70 157.46L186.90 161.36L182.50 161.36Z" fill="#000"/>
<path d="M179.80 160.26L182.00 164.16L177.60 164.16Z" fill="#000"/>
<path d="M184.50 160.26L186.70 164.16L182.30 164.16Z" fill="#000"/>
<path d="M189.20 160.26L191.40 164.16L187.00 164.16Z" fill="#000"/>
<path d="M176.80 163.06L179.00 166.96L174.60 166.96Z" fill="#000"/>
<path d="M181.20 163.06L183.40 166.96L179.00 166.96Z" fill="#000"/>
<path d="M186.00 163.06L188.20 166.96L183.80 166.96Z" fill="#000"/>
<path d="M190.80 163.06L193.00 166.96L188.60 166.96Z" fill="#000"/>
<path d="M175.30 165.96L177.50 169.86L173.10 169.86Z" fill="#000"/>
<path d="M179.60 165.96L181.80 169.86L177.40 169.86Z" fill="#000"/>
<path d="M184.00 165.96L186.20 169.86L181.80 169.86Z" fill="#000"/>
<path d="M188.40 165.96L190.60 169.86L186.20 169.86Z" fill="#000"/>
<path d="M192.80 165.96L195.00 169.86L190.60 169.86Z" fill="#000"/>
<path d="M176.20 170.46L178.40 174.36L174.00 174.36Z" fill="#000"/>
<path d="M180.60 170.46L182.80 174.36L178.40 174.36Z" fill="#000"/>
<path d="M185.00 170.46L187.20 174.36L182.80 174.36Z" fill="#000"/>
<path d="M189.40 170.46L191.60 174.36L187.20 174.36Z" fill="#000"/>
<path d="M193.80 170.46L196.00 174.36L191.60 174.36Z" fill="#000"/>
<path d="M179.00 173.26L181.20 177.16L176.80 177.16Z" fill="#000"/>
<path d="M183.50 173.26L185.70 177.16L181.30 177.16Z" fill="#000"/>
<path d="M188.00 173.26L190.20 177.16L185.80 177.16Z" fill="#000"/>
<path d="M192.00 173.26L194.20 177.16L189.80 177.16Z" fill="#000"/>
<path d="M184.50 176.06L186.70 179.96L182.30 179.96Z" fill="#000"/>
<line x1="174.50" y1="166.20" x2="195.00" y2="166.20" stroke="#444" stroke-width="1.0"/>
<line x1="176.00" y1="170.60" x2="193.00" y2="170.60" stroke="#fff" stroke-width="0.8"/>
<line x1="184.70" y1="158.00" x2="184.70" y2="176.00" stroke="#444" stroke-width="0.9"/>
<circle cx="253.00" cy="135.90" r="2.0" fill="#000"/>
<circle cx="247.50" cy="144.70" r="2.0" fill="#000"/>
<circle cx="253.00" cy="144.70" r="2.0" fill="#000"/>
<circle cx="258.40" cy="141.70" r="2.0" fill="#000"/>
<circle cx="260.90" cy="146.40" r="2.0" fill="#000"/>
<circle cx="245.00" cy="149.70" r="2.0" fill="#000"/>
<circle cx="250.40" cy="151.40" r="2.0" fill="#000"/>
<circle cx="255.90" cy="150.40" r="2.0" fill="#000"/>
<circle cx="250.40" cy="159.80" r="2.0" fill="#000"/>
<circle cx="255.90" cy="161.40" r="2.0" fill="#000"/>
<circle cx="253.00" cy="167.60" r="2.0" fill="#000"/>
<circle cx="258.40" cy="169.30" r="2.0" fill="#000"/>
<circle cx="247.50" cy="171.50" r="2.0" fill="#000"/>
<circle cx="253.00" cy="173.10" r="2.0" fill="#000"/>
<circle cx="247.50" cy="178.80" r="2.0" fill="#000"/>
<circle cx="253.00" cy="179.80" r="2.0" fill="#000"/>
<circle cx="258.40" cy="179.80" r="2.0" fill="#000"/>
<line x1="241.70" y1="160.10" x2="264.20" y2="160.10" stroke="#444" stroke-width="1.0"/>
<line x1="253.00" y1="144.70" x2="253.00" y2="172.60" stroke="#444" stroke-width="0.9"/>
<line x1="248.50" y1="144.70" x2="257.50" y2="144.70" stroke="#444" stroke-width="0.9"/>
<line x1="248.50" y1="172.60" x2="257.50" y2="172.60" stroke="#444" stroke-width="0.9"/>
<path d="M289.90 138.06L292.10 141.96L287.70 141.96Z" fill="#000"/>
<path d="M284.40 141.36L286.60 145.26L282.20 145.26Z" fill="#000"/>
<path d="M287.00 148.56L289.20 152.46L284.80 152.46Z" fill="#000"/>
<path d="M286.50 156.86L288.70 160.76L284.30 160.76Z" fill="#000"/>
<path d="M294.90 159.06L297.10 162.96L292.70 162.96Z" fill="#000"/>
<path d="M278.70 163.06L280.90 166.96L276.50 166.96Z" fill="#000"/>
<path d="M283.20 164.46L285.40 168.36L281.00 168.36Z" fill="#000"/>
<path d="M287.40 163.56L289.60 167.46L285.20 167.46Z" fill="#000"/>
<path d="M291.60 164.46L293.80 168.36L289.40 168.36Z" fill="#000"/>
<path d="M277.70 177.46L279.90 181.36L275.50 181.36Z" fill="#000"/>
<path d="M285.40 176.96L287.60 180.86L283.20 180.86Z" fill="#000"/>
<path d="M290.70 177.46L292.90 181.36L288.50 181.36Z" fill="#000"/>
<path d="M295.40 178.16L297.60 182.06L293.20 182.06Z" fill="#000"/>
<path d="M282.00 181.46L284.20 185.36L279.80 185.36Z" fill="#000"/>
<path d="M286.50 182.46L288.70 186.36L284.30 186.36Z" fill="#000"/>
<path d="M290.70 181.96L292.90 185.86L288.50 185.86Z" fill="#000"/>
<path d="M277.50 167.16L279.70 171.06L275.30 171.06Z" fill="#000"/>
<path d="M281.00 167.16L283.20 171.06L278.80 171.06Z" fill="#000"/>
<path d="M284.50 167.16L286.70 171.06L282.30 171.06Z" fill="#000"/>
<path d="M288.00 167.16L290.20 171.06L285.80 171.06Z" fill="#000"/>
<path d="M291.50 167.16L293.70 171.06L289.30 171.06Z" fill="#000"/>
<path d="M295.00 167.16L297.20 171.06L292.80 171.06Z" fill="#000"/>
<path d="M279.00 170.46L281.20 174.36L276.80 174.36Z" fill="#000"/>
<path d="M282.80 170.46L285.00 174.36L280.60 174.36Z" fill="#000"/>
<path d="M286.50 170.46L288.70 174.36L284.30 174.36Z" fill="#000"/>
<path d="M290.20 170.46L292.40 174.36L288.00 174.36Z" fill="#000"/>
<path d="M294.00 170.46L296.20 174.36L291.80 174.36Z" fill="#000"/>
<path d="M278.00 173.66L280.20 177.56L275.80 177.56Z" fill="#000"/>
<path d="M281.50 173.66L283.70 177.56L279.30 177.56Z" fill="#000"/>
<path d="M285.30 173.66L287.50 177.56L283.10 177.56Z" fill="#000"/>
<path d="M289.00 173.66L291.20 177.56L286.80 177.56Z" fill="#000"/>
<path d="M292.80 173.66L295.00 177.56L290.60 177.56Z" fill="#000"/>
<path d="M296.30 173.66L298.50 177.56L294.10 177.56Z" fill="#000"/>
<line x1="275.50" y1="171.20" x2="298.00" y2="171.20" stroke="#444" stroke-width="1.0"/>
<line x1="286.50" y1="160.00" x2="286.50" y2="178.00" stroke="#444" stroke-width="0.9"/>
<circle cx="363.70" cy="136.40" r="2.0" fill="#000"/>
<circle cx="352.70" cy="139.20" r="2.0" fill="#000"/>
<circle cx="358.70" cy="140.90" r="2.0" fill="#000"/>
<circle cx="352.70" cy="144.70" r="2.0" fill="#000"/>
<circle cx="358.70" cy="146.40" r="2.0" fill="#000"/>
<circle cx="363.70" cy="145.90" r="2.0" fill="#000"/>
<circle cx="352.70" cy="151.70" r="2.0" fill="#000"/>
<circle cx="363.70" cy="151.40" r="2.0" fill="#000"/>
<circle cx="349.90" cy="158.80" r="2.0" fill="#000"/>
<circle cx="358.70" cy="156.80" r="2.0" fill="#000"/>
<circle cx="366.60" cy="159.80" r="2.0" fill="#000"/>
<circle cx="354.40" cy="162.60" r="2.0" fill="#000"/>
<circle cx="358.70" cy="164.30" r="2.0" fill="#000"/>
<circle cx="362.40" cy="162.60" r="2.0" fill="#000"/>
<circle cx="363.70" cy="166.50" r="2.0" fill="#000"/>
<circle cx="352.70" cy="168.80" r="2.0" fill="#000"/>
<circle cx="358.20" cy="169.80" r="2.0" fill="#000"/>
<circle cx="358.70" cy="178.50" r="2.0" fill="#000"/>
<line x1="347.30" y1="157.10" x2="369.10" y2="157.10" stroke="#444" stroke-width="1.0"/>
<line x1="358.70" y1="145.90" x2="358.70" y2="165.10" stroke="#444" stroke-width="0.9"/>
<line x1="354.20" y1="145.90" x2="363.20" y2="145.90" stroke="#444" stroke-width="0.9"/>
<line x1="354.20" y1="165.10" x2="363.20" y2="165.10" stroke="#444" stroke-width="0.9"/>
<path d="M391.10 134.56L393.30 138.46L388.90 138.46Z" fill="#000"/>
<path d="M388.60 141.36L390.80 145.26L386.40 145.26Z" fill="#000"/>
<path d="M394.10 141.36L396.30 145.26L391.90 145.26Z" fill="#000"/>
<path d="M385.70 146.86L387.90 150.76L383.50 150.76Z" fill="#000"/>
<path d="M394.40 146.86L396.60 150.76L392.20 150.76Z" fill="#000"/>
<path d="M399.50 144.96L401.70 148.86L397.30 148.86Z" fill="#000"/>
<path d="M383.50 150.46L385.70 154.36L381.30 154.36Z" fill="#000"/>
<path d="M388.60 152.26L390.80 156.16L386.40 156.16Z" fill="#000"/>
<path d="M399.50 151.36L401.70 155.26L397.30 155.26Z" fill="#000"/>
<path d="M394.40 155.06L396.60 158.96L392.20 158.96Z" fill="#000"/>
<path d="M386.20 161.96L388.40 165.86L384.00 165.86Z" fill="#000"/>
<path d="M396.60 161.96L398.80 165.86L394.40 165.86Z" fill="#000"/>
<path d="M391.10 165.96L393.30 169.86L388.90 169.86Z" fill="#000"/>
<path d="M382.60 171.06L384.80 174.96L380.40 174.96Z" fill="#000"/>
<path d="M387.10 171.86L389.30 175.76L384.90 175.76Z" fill="#000"/>
<path d="M395.90 171.86L398.10 175.76L393.70 175.76Z" fill="#000"/>
<path d="M400.30 170.56L402.50 174.46L398.10 174.46Z" fill="#000"/>
<path d="M384.50 174.26L386.70 178.16L382.30 178.16Z" fill="#000"/>
<path d="M388.00 174.26L390.20 178.16L385.80 178.16Z" fill="#000"/>
<path d="M391.50 174.26L393.70 178.16L389.30 178.16Z" fill="#000"/>
<path d="M395.00 174.26L397.20 178.16L392.80 178.16Z" fill="#000"/>
<path d="M398.50 174.26L400.70 178.16L396.30 178.16Z" fill="#000"/>
<path d="M386.20 177.26L388.40 181.16L384.00 181.16Z" fill="#000"/>
<path d="M389.70 177.26L391.90 181.16L387.50 181.16Z" fill="#000"/>
<path d="M393.20 177.26L395.40 181.16L391.00 181.16Z" fill="#000"/>
<path d="M396.70 177.26L398.90 181.16L394.50 181.16Z" fill="#000"/>
<path d="M389.00 180.26L391.20 184.16L386.80 184.16Z" fill="#000"/>
<path d="M393.00 180.26L395.20 184.16L390.80 184.16Z" fill="#000"/>
<line x1="380.00" y1="173.40" x2="402.00" y2="173.40" stroke="#444" stroke-width="1.0"/>
<line x1="391.10" y1="151.90" x2="391.10" y2="178.00" stroke="#444" stroke-width="0.9"/>
<line x1="386.10" y1="151.90" x2="396.10" y2="151.90" stroke="#444" stroke-width="0.9"/>
<line x1="27.00" y1="233.60" x2="27.00" y2="301.20" stroke="#2a2a2a" stroke-width="1.1"/>
<line x1="27.00" y1="301.20" x2="87.80" y2="301.20" stroke="#2a2a2a" stroke-width="1.1"/>
<line x1="23.80" y1="301.20" x2="27.00" y2="301.20" stroke="#2a2a2a" stroke-width="1.0"/>
<text x="24.10" y="303.58" font-size="6.6" font-weight="normal" fill="#222" stroke="#222" stroke-width="0.3" text-anchor="end">0</text>
<line x1="23.80" y1="284.30" x2="27.00" y2="284.30" stroke="#2a2a2a" stroke-width="1.0"/>
<text x="24.10" y="286.68" font-size="6.6" font-weight="normal" fill="#222" stroke="#222" stroke-width="0.3" text-anchor="end">100</text>
<line x1="23.80" y1="267.40" x2="27.00" y2="267.40" stroke="#2a2a2a" stroke-width="1.0"/>
<text x="24.10" y="269.78" font-size="6.6" font-weight="normal" fill="#222" stroke="#222" stroke-width="0.3" text-anchor="end">200</text>
<line x1="23.80" y1="250.50" x2="27.00" y2="250.50" stroke="#2a2a2a" stroke-width="1.0"/>
<text x="24.10" y="252.88" font-size="6.6" font-weight="normal" fill="#222" stroke="#222" stroke-width="0.3" text-anchor="end">300</text>
<line x1="23.80" y1="233.60" x2="27.00" y2="233.60" stroke="#2a2a2a" stroke-width="1.0"/>
<text x="24.10" y="235.98" font-size="6.6" font-weight="normal" fill="#222" stroke="#222" stroke-width="0.3" text-anchor="end">400</text>
<line x1="42.60" y1="237.60" x2="42.60" y2="260.00" stroke="#1a1a1a" stroke-width="1.2"/>
<line x1="37.60" y1="237.60" x2="47.60" y2="237.60" stroke="#1a1a1a" stroke-width="1.2"/>
<rect x="32.70" y="260.00" width="20.20" height="41.20" fill="#fff" stroke="#1a1a1a" stroke-width="1.15"/>
<line x1="73.00" y1="266.30" x2="73.00" y2="277.50" stroke="#1a1a1a" stroke-width="1.2"/>
<line x1="67.70" y1="266.30" x2="78.30" y2="266.30" stroke="#1a1a1a" stroke-width="1.2"/>
<rect x="63.00" y="277.50" width="20.30" height="23.70" fill="#000" stroke="#1a1a1a" stroke-width="1.15"/>
<line x1="42.50" y1="301.20" x2="42.50" y2="304.60" stroke="#2a2a2a" stroke-width="1.0"/>
<line x1="73.40" y1="301.20" x2="73.40" y2="304.60" stroke="#2a2a2a" stroke-width="1.0"/>
<text x="31.00" y="310.90" font-size="6.4" font-weight="bold" fill="#000" textLength="24.20" lengthAdjust="spacingAndGlyphs" stroke="#000" stroke-width="0.2">Control</text>
<text x="63.80" y="310.90" font-size="6.4" font-weight="bold" fill="#000" textLength="18.20" lengthAdjust="spacingAndGlyphs" stroke="#000" stroke-width="0.2">Study</text>
<text x="48.60" y="220.50" font-size="6.8" font-weight="bold" fill="#000" textLength="19.20" lengthAdjust="spacingAndGlyphs">TNF-&#945;</text>
<text x="48.10" y="229.90" font-size="6.6" font-weight="normal" fill="#000" textLength="18.60" lengthAdjust="spacingAndGlyphs" stroke="#000" stroke-width="0.17">p=0.03</text>
<path d="M42.50 235.40V232.60H72.60V235.40" fill="none" stroke="#2a2a2a" stroke-width="1.0"/>
<line x1="104.70" y1="232.60" x2="104.70" y2="301.20" stroke="#2a2a2a" stroke-width="1.1"/>
<line x1="104.70" y1="301.20" x2="165.30" y2="301.20" stroke="#2a2a2a" stroke-width="1.1"/>
<line x1="101.50" y1="301.20" x2="104.70" y2="301.20" stroke="#2a2a2a" stroke-width="1.0"/>
<text x="100.20" y="303.58" font-size="6.6" font-weight="normal" fill="#222" stroke="#222" stroke-width="0.3" text-anchor="end">0</text>
<line x1="101.50" y1="287.48" x2="104.70" y2="287.48" stroke="#2a2a2a" stroke-width="1.0"/>
<text x="100.20" y="289.86" font-size="6.6" font-weight="normal" fill="#222" stroke="#222" stroke-width="0.3" text-anchor="end">100</text>
<line x1="101.50" y1="273.76" x2="104.70" y2="273.76" stroke="#2a2a2a" stroke-width="1.0"/>
<text x="100.20" y="276.14" font-size="6.6" font-weight="normal" fill="#222" stroke="#222" stroke-width="0.3" text-anchor="end">200</text>
<line x1="101.50" y1="260.04" x2="104.70" y2="260.04" stroke="#2a2a2a" stroke-width="1.0"/>
<text x="100.20" y="262.42" font-size="6.6" font-weight="normal" fill="#222" stroke="#222" stroke-width="0.3" text-anchor="end">300</text>
<line x1="101.50" y1="246.32" x2="104.70" y2="246.32" stroke="#2a2a2a" stroke-width="1.0"/>
<text x="100.20" y="248.70" font-size="6.6" font-weight="normal" fill="#222" stroke="#222" stroke-width="0.3" text-anchor="end">400</text>
<line x1="101.50" y1="232.60" x2="104.70" y2="232.60" stroke="#2a2a2a" stroke-width="1.0"/>
<text x="100.20" y="234.98" font-size="6.6" font-weight="normal" fill="#222" stroke="#222" stroke-width="0.3" text-anchor="end">500</text>
<line x1="120.40" y1="240.60" x2="120.40" y2="262.70" stroke="#1a1a1a" stroke-width="1.2"/>
<line x1="115.60" y1="240.60" x2="125.20" y2="240.60" stroke="#1a1a1a" stroke-width="1.2"/>
<rect x="110.40" y="262.70" width="20.20" height="38.50" fill="#fff" stroke="#1a1a1a" stroke-width="1.15"/>
<line x1="150.30" y1="263.50" x2="150.30" y2="277.80" stroke="#1a1a1a" stroke-width="1.2"/>
<line x1="145.50" y1="263.50" x2="155.10" y2="263.50" stroke="#1a1a1a" stroke-width="1.2"/>
<rect x="140.40" y="277.80" width="20.40" height="23.40" fill="#000" stroke="#1a1a1a" stroke-width="1.15"/>
<line x1="119.50" y1="301.20" x2="119.50" y2="304.60" stroke="#2a2a2a" stroke-width="1.0"/>
<line x1="150.40" y1="301.20" x2="150.40" y2="304.60" stroke="#2a2a2a" stroke-width="1.0"/>
<text x="108.00" y="310.90" font-size="6.4" font-weight="bold" fill="#000" textLength="23.90" lengthAdjust="spacingAndGlyphs" stroke="#000" stroke-width="0.2">Control</text>
<text x="140.60" y="310.90" font-size="6.4" font-weight="bold" fill="#000" textLength="18.40" lengthAdjust="spacingAndGlyphs" stroke="#000" stroke-width="0.2">Study</text>
<text x="128.90" y="220.50" font-size="6.9" font-weight="bold" fill="#000" textLength="12.60" lengthAdjust="spacingAndGlyphs">IL-6</text>
<text x="125.60" y="232.60" font-size="6.6" font-weight="normal" fill="#000" textLength="19.50" lengthAdjust="spacingAndGlyphs" stroke="#000" stroke-width="0.17">p=0.05</text>
<path d="M120.20 237.40V234.60H150.50V237.40" fill="none" stroke="#2a2a2a" stroke-width="1.0"/>
<text transform="translate(6.60,269.10) rotate(-90)" x="-9.50" y="0" font-size="6.2" font-weight="bold" textLength="19.00" lengthAdjust="spacingAndGlyphs">pg/mL</text>
<line x1="200.60" y1="233.60" x2="200.60" y2="300.20" stroke="#2a2a2a" stroke-width="1.1"/>
<line x1="200.60" y1="300.20" x2="293.60" y2="300.20" stroke="#2a2a2a" stroke-width="1.1"/>
<line x1="197.40" y1="300.20" x2="200.60" y2="300.20" stroke="#2a2a2a" stroke-width="1.0"/>
<text x="197.80" y="302.32" font-size="5.9" font-weight="normal" fill="#222" stroke="#222" stroke-width="0.3" text-anchor="end">0</text>
<line x1="197.40" y1="283.55" x2="200.60" y2="283.55" stroke="#2a2a2a" stroke-width="1.0"/>
<text x="197.80" y="285.67" font-size="5.9" font-weight="normal" fill="#222" stroke="#222" stroke-width="0.3" text-anchor="end">20</text>
<line x1="197.40" y1="266.90" x2="200.60" y2="266.90" stroke="#2a2a2a" stroke-width="1.0"/>
<text x="197.80" y="269.02" font-size="5.9" font-weight="normal" fill="#222" stroke="#222" stroke-width="0.3" text-anchor="end">40</text>
<line x1="197.40" y1="250.25" x2="200.60" y2="250.25" stroke="#2a2a2a" stroke-width="1.0"/>
<text x="197.80" y="252.37" font-size="5.9" font-weight="normal" fill="#222" stroke="#222" stroke-width="0.3" text-anchor="end">60</text>
<line x1="197.40" y1="233.60" x2="200.60" y2="233.60" stroke="#2a2a2a" stroke-width="1.0"/>
<text x="197.80" y="235.72" font-size="5.9" font-weight="normal" fill="#222" stroke="#222" stroke-width="0.3" text-anchor="end">80</text>
<line x1="212.20" y1="252.60" x2="212.20" y2="271.50" stroke="#1a1a1a" stroke-width="1.2"/>
<line x1="207.40" y1="252.60" x2="217.00" y2="252.60" stroke="#1a1a1a" stroke-width="1.2"/>
<rect x="204.00" y="271.50" width="15.70" height="28.70" fill="#fff" stroke="#1a1a1a" stroke-width="1.15"/>
<line x1="235.80" y1="273.10" x2="235.80" y2="286.70" stroke="#1a1a1a" stroke-width="1.2"/>
<line x1="232.60" y1="273.10" x2="239.00" y2="273.10" stroke="#1a1a1a" stroke-width="1.2"/>
<rect x="227.20" y="286.70" width="16.80" height="13.50" fill="#000" stroke="#1a1a1a" stroke-width="1.15"/>
<line x1="259.50" y1="257.60" x2="259.50" y2="275.00" stroke="#1a1a1a" stroke-width="1.2"/>
<line x1="255.40" y1="257.60" x2="263.60" y2="257.60" stroke="#1a1a1a" stroke-width="1.2"/>
<rect x="251.90" y="275.00" width="15.20" height="25.20" fill="#fff" stroke="#1a1a1a" stroke-width="1.15"/>
<line x1="283.00" y1="287.30" x2="283.00" y2="290.60" stroke="#1a1a1a" stroke-width="1.2"/>
<line x1="279.00" y1="287.30" x2="287.00" y2="287.30" stroke="#1a1a1a" stroke-width="1.2"/>
<rect x="275.60" y="290.60" width="15.20" height="9.60" fill="#000" stroke="#1a1a1a" stroke-width="1.15"/>
<line x1="212.20" y1="300.20" x2="212.20" y2="303.60" stroke="#2a2a2a" stroke-width="1.0"/>
<line x1="235.40" y1="300.20" x2="235.40" y2="303.60" stroke="#2a2a2a" stroke-width="1.0"/>
<line x1="259.20" y1="300.20" x2="259.20" y2="303.60" stroke="#2a2a2a" stroke-width="1.0"/>
<line x1="282.90" y1="300.20" x2="282.90" y2="303.60" stroke="#2a2a2a" stroke-width="1.0"/>
<text x="201.10" y="309.70" font-size="6.4" font-weight="bold" fill="#000" textLength="21.20" lengthAdjust="spacingAndGlyphs" stroke="#000" stroke-width="0.2">Control</text>
<text x="227.70" y="309.70" font-size="6.4" font-weight="bold" fill="#000" textLength="16.80" lengthAdjust="spacingAndGlyphs" stroke="#000" stroke-width="0.2">Study</text>
<text x="249.10" y="309.70" font-size="6.4" font-weight="bold" fill="#000" textLength="21.70" lengthAdjust="spacingAndGlyphs" stroke="#000" stroke-width="0.2">Control</text>
<text x="275.40" y="309.70" font-size="6.4" font-weight="bold" fill="#000" textLength="16.20" lengthAdjust="spacingAndGlyphs" stroke="#000" stroke-width="0.2">Study</text>
<text x="219.40" y="219.50" font-size="7.0" font-weight="normal" fill="#000" textLength="56.20" lengthAdjust="spacingAndGlyphs" stroke="#000" stroke-width="0.38">Intracellular IL-1<tspan stroke-width="0">&#946;</tspan></text>
<text x="215.80" y="242.40" font-size="6.6" font-weight="normal" fill="#000" textLength="17.70" lengthAdjust="spacingAndGlyphs" stroke="#000" stroke-width="0.17">p=0.06</text>
<path d="M211.90 248.50V245.70H237.70V248.50" fill="none" stroke="#2a2a2a" stroke-width="1.0"/>
<text x="263.30" y="242.40" font-size="6.6" font-weight="normal" fill="#000" textLength="16.70" lengthAdjust="spacingAndGlyphs" stroke="#000" stroke-width="0.17">p=0.01</text>
<path d="M259.40 249.10V246.30H285.40V249.10" fill="none" stroke="#2a2a2a" stroke-width="1.0"/>
<line x1="248.00" y1="233.80" x2="248.00" y2="300.20" stroke="#111" stroke-width="1.25" stroke-dasharray="1.4 0.8"/>
<line x1="200.00" y1="317.50" x2="244.50" y2="317.50" stroke="#111" stroke-width="1.0"/>
<line x1="248.50" y1="317.50" x2="293.60" y2="317.50" stroke="#666" stroke-width="1.0"/>
<text x="215.20" y="326.30" font-size="6.6" font-weight="bold" fill="#000" textLength="17.80" lengthAdjust="spacingAndGlyphs" stroke="#000" stroke-width="0.2">Day 30</text>
<text x="261.70" y="326.30" font-size="6.6" font-weight="bold" fill="#000" textLength="20.20" lengthAdjust="spacingAndGlyphs" stroke="#000" stroke-width="0.2">Day 100</text>
<text transform="translate(183.80,266.50) rotate(-90)" x="-26.00" y="0" font-size="6.4" font-weight="bold" textLength="52.00" lengthAdjust="spacingAndGlyphs">% of CD11c<tspan font-size="4" dy="-2.5">+</tspan><tspan dy="2.5"> Cells</tspan></text>
<line x1="308.00" y1="233.50" x2="308.00" y2="300.20" stroke="#2a2a2a" stroke-width="1.1"/>
<line x1="308.00" y1="300.20" x2="404.70" y2="300.20" stroke="#2a2a2a" stroke-width="1.1"/>
<line x1="304.80" y1="300.20" x2="308.00" y2="300.20" stroke="#2a2a2a" stroke-width="1.0"/>
<text x="305.20" y="302.32" font-size="5.9" font-weight="normal" fill="#222" stroke="#222" stroke-width="0.3" text-anchor="end">0</text>
<line x1="304.80" y1="286.86" x2="308.00" y2="286.86" stroke="#2a2a2a" stroke-width="1.0"/>
<text x="305.20" y="288.98" font-size="5.9" font-weight="normal" fill="#222" stroke="#222" stroke-width="0.3" text-anchor="end">10</text>
<line x1="304.80" y1="273.52" x2="308.00" y2="273.52" stroke="#2a2a2a" stroke-width="1.0"/>
<text x="305.20" y="275.64" font-size="5.9" font-weight="normal" fill="#222" stroke="#222" stroke-width="0.3" text-anchor="end">20</text>
<line x1="304.80" y1="260.18" x2="308.00" y2="260.18" stroke="#2a2a2a" stroke-width="1.0"/>
<text x="305.20" y="262.30" font-size="5.9" font-weight="normal" fill="#222" stroke="#222" stroke-width="0.3" text-anchor="end">30</text>
<line x1="304.80" y1="246.84" x2="308.00" y2="246.84" stroke="#2a2a2a" stroke-width="1.0"/>
<text x="305.20" y="248.96" font-size="5.9" font-weight="normal" fill="#222" stroke="#222" stroke-width="0.3" text-anchor="end">40</text>
<line x1="304.80" y1="233.50" x2="308.00" y2="233.50" stroke="#2a2a2a" stroke-width="1.0"/>
<text x="305.20" y="235.62" font-size="5.9" font-weight="normal" fill="#222" stroke="#222" stroke-width="0.3" text-anchor="end">50</text>
<line x1="320.10" y1="250.00" x2="320.10" y2="277.90" stroke="#1a1a1a" stroke-width="1.2"/>
<line x1="316.70" y1="250.00" x2="323.50" y2="250.00" stroke="#1a1a1a" stroke-width="1.2"/>
<rect x="312.40" y="277.90" width="16.10" height="22.30" fill="#fff" stroke="#1a1a1a" stroke-width="1.15"/>
<line x1="344.30" y1="292.50" x2="344.30" y2="297.00" stroke="#1a1a1a" stroke-width="1.2"/>
<line x1="340.30" y1="292.50" x2="348.30" y2="292.50" stroke="#1a1a1a" stroke-width="1.2"/>
<rect x="336.00" y="297.00" width="16.80" height="3.20" fill="#000" stroke="#1a1a1a" stroke-width="1.15"/>
<line x1="368.80" y1="250.80" x2="368.80" y2="282.60" stroke="#1a1a1a" stroke-width="1.2"/>
<line x1="364.60" y1="250.80" x2="373.00" y2="250.80" stroke="#1a1a1a" stroke-width="1.2"/>
<rect x="360.20" y="282.60" width="16.70" height="17.60" fill="#fff" stroke="#1a1a1a" stroke-width="1.15"/>
<line x1="392.50" y1="287.30" x2="392.50" y2="293.20" stroke="#1a1a1a" stroke-width="1.2"/>
<line x1="388.60" y1="287.30" x2="396.40" y2="287.30" stroke="#1a1a1a" stroke-width="1.2"/>
<rect x="384.30" y="293.20" width="16.50" height="7.00" fill="#000" stroke="#1a1a1a" stroke-width="1.15"/>
<line x1="320.10" y1="300.20" x2="320.10" y2="303.60" stroke="#2a2a2a" stroke-width="1.0"/>
<line x1="344.40" y1="300.20" x2="344.40" y2="303.60" stroke="#2a2a2a" stroke-width="1.0"/>
<line x1="368.10" y1="300.20" x2="368.10" y2="303.60" stroke="#2a2a2a" stroke-width="1.0"/>
<line x1="393.10" y1="300.20" x2="393.10" y2="303.60" stroke="#2a2a2a" stroke-width="1.0"/>
<text x="308.90" y="309.60" font-size="6.4" font-weight="bold" fill="#000" textLength="22.80" lengthAdjust="spacingAndGlyphs" stroke="#000" stroke-width="0.2">Control</text>
<text x="335.50" y="309.60" font-size="6.4" font-weight="bold" fill="#000" textLength="17.00" lengthAdjust="spacingAndGlyphs" stroke="#000" stroke-width="0.2">Study</text>
<text x="357.10" y="309.60" font-size="6.4" font-weight="bold" fill="#000" textLength="22.90" lengthAdjust="spacingAndGlyphs" stroke="#000" stroke-width="0.2">Control</text>
<text x="384.20" y="309.60" font-size="6.4" font-weight="bold" fill="#000" textLength="16.90" lengthAdjust="spacingAndGlyphs" stroke="#000" stroke-width="0.2">Study</text>
<text x="325.80" y="219.80" font-size="7.0" font-weight="normal" fill="#000" textLength="61.10" lengthAdjust="spacingAndGlyphs" stroke="#000" stroke-width="0.38">Intracellular TNF-<tspan stroke-width="0">&#945;</tspan></text>
<text x="324.30" y="238.10" font-size="6.6" font-weight="normal" fill="#000" textLength="20.50" lengthAdjust="spacingAndGlyphs" stroke="#000" stroke-width="0.17">p=0.01</text>
<path d="M320.70 246.40V243.60H346.50V246.40" fill="none" stroke="#2a2a2a" stroke-width="1.0"/>
<text x="371.90" y="238.10" font-size="6.6" font-weight="normal" fill="#000" textLength="19.10" lengthAdjust="spacingAndGlyphs" stroke="#000" stroke-width="0.17">p=0.03</text>
<path d="M368.10 246.40V243.60H394.10V246.40" fill="none" stroke="#2a2a2a" stroke-width="1.0"/>
<line x1="356.50" y1="233.50" x2="356.50" y2="300.20" stroke="#111" stroke-width="1.25" stroke-dasharray="1.4 0.8"/>
<line x1="308.50" y1="317.50" x2="352.90" y2="317.50" stroke="#555" stroke-width="1.0"/>
<line x1="357.50" y1="317.50" x2="402.60" y2="317.50" stroke="#111" stroke-width="1.0"/>
<text x="323.80" y="325.80" font-size="6.6" font-weight="bold" fill="#000" textLength="18.20" lengthAdjust="spacingAndGlyphs" stroke="#000" stroke-width="0.2">Day 30</text>
<text x="369.80" y="325.80" font-size="6.6" font-weight="bold" fill="#000" textLength="21.60" lengthAdjust="spacingAndGlyphs" stroke="#000" stroke-width="0.2">Day 100</text>
<line x1="421.00" y1="233.70" x2="421.00" y2="300.20" stroke="#2a2a2a" stroke-width="1.1"/>
<line x1="421.00" y1="300.20" x2="515.60" y2="300.20" stroke="#2a2a2a" stroke-width="1.1"/>
<line x1="417.80" y1="300.20" x2="421.00" y2="300.20" stroke="#2a2a2a" stroke-width="1.0"/>
<text x="417.70" y="302.36" font-size="6.0" font-weight="normal" fill="#222" stroke="#222" stroke-width="0.3" text-anchor="end">80</text>
<line x1="417.80" y1="283.57" x2="421.00" y2="283.57" stroke="#2a2a2a" stroke-width="1.0"/>
<text x="417.70" y="285.73" font-size="6.0" font-weight="normal" fill="#222" stroke="#222" stroke-width="0.3" text-anchor="end">85</text>
<line x1="417.80" y1="266.94" x2="421.00" y2="266.94" stroke="#2a2a2a" stroke-width="1.0"/>
<text x="417.70" y="269.10" font-size="6.0" font-weight="normal" fill="#222" stroke="#222" stroke-width="0.3" text-anchor="end">90</text>
<line x1="417.80" y1="250.31" x2="421.00" y2="250.31" stroke="#2a2a2a" stroke-width="1.0"/>
<text x="417.70" y="252.47" font-size="6.0" font-weight="normal" fill="#222" stroke="#222" stroke-width="0.3" text-anchor="end">95</text>
<line x1="417.80" y1="233.68" x2="421.00" y2="233.68" stroke="#2a2a2a" stroke-width="1.0"/>
<text x="417.70" y="235.84" font-size="6.0" font-weight="normal" fill="#222" stroke="#222" stroke-width="0.3" text-anchor="end">100</text>
<line x1="434.20" y1="238.60" x2="434.20" y2="240.40" stroke="#1a1a1a" stroke-width="1.2"/>
<line x1="430.70" y1="238.60" x2="437.70" y2="238.60" stroke="#1a1a1a" stroke-width="1.2"/>
<rect x="425.50" y="240.40" width="16.80" height="59.80" fill="#fff" stroke="#1a1a1a" stroke-width="1.25"/>
<line x1="457.90" y1="238.60" x2="457.90" y2="241.40" stroke="#1a1a1a" stroke-width="1.2"/>
<line x1="454.30" y1="238.60" x2="461.50" y2="238.60" stroke="#1a1a1a" stroke-width="1.2"/>
<rect x="449.70" y="241.40" width="16.20" height="58.80" fill="#000" stroke="#1a1a1a" stroke-width="1.25"/>
<line x1="482.20" y1="244.60" x2="482.20" y2="246.80" stroke="#1a1a1a" stroke-width="1.2"/>
<line x1="478.60" y1="244.60" x2="485.80" y2="244.60" stroke="#1a1a1a" stroke-width="1.2"/>
<rect x="474.00" y="246.80" width="16.20" height="53.40" fill="#fff" stroke="#1a1a1a" stroke-width="1.25"/>
<line x1="506.20" y1="249.30" x2="506.20" y2="254.00" stroke="#1a1a1a" stroke-width="1.2"/>
<line x1="502.30" y1="249.30" x2="510.10" y2="249.30" stroke="#1a1a1a" stroke-width="1.2"/>
<rect x="498.20" y="254.00" width="16.80" height="46.20" fill="#000" stroke="#1a1a1a" stroke-width="1.25"/>
<line x1="433.30" y1="300.20" x2="433.30" y2="303.60" stroke="#2a2a2a" stroke-width="1.0"/>
<line x1="457.60" y1="300.20" x2="457.60" y2="303.60" stroke="#2a2a2a" stroke-width="1.0"/>
<line x1="481.90" y1="300.20" x2="481.90" y2="303.60" stroke="#2a2a2a" stroke-width="1.0"/>
<line x1="506.30" y1="300.20" x2="506.30" y2="303.60" stroke="#2a2a2a" stroke-width="1.0"/>
<text x="422.70" y="310.30" font-size="6.8" font-weight="bold" fill="#000" textLength="22.20" lengthAdjust="spacingAndGlyphs" stroke="#000" stroke-width="0.2">Control</text>
<text x="449.80" y="310.30" font-size="6.8" font-weight="bold" fill="#000" textLength="16.90" lengthAdjust="spacingAndGlyphs" stroke="#000" stroke-width="0.2">Study</text>
<text x="470.90" y="310.30" font-size="6.8" font-weight="bold" fill="#000" textLength="22.70" lengthAdjust="spacingAndGlyphs" stroke="#000" stroke-width="0.2">Control</text>
<text x="497.80" y="310.30" font-size="6.8" font-weight="bold" fill="#000" textLength="17.60" lengthAdjust="spacingAndGlyphs" stroke="#000" stroke-width="0.2">Study</text>
<text x="440.40" y="219.50" font-size="7.4" font-weight="bold" fill="#000" textLength="60.00" lengthAdjust="spacingAndGlyphs">Intracellular IL-6</text>
<text x="438.80" y="230.10" font-size="6.6" font-weight="normal" fill="#000" textLength="15.60" lengthAdjust="spacingAndGlyphs" stroke="#000" stroke-width="0.17">p=0.9</text>
<path d="M433.60 235.90V233.10H460.50V235.90" fill="none" stroke="#2a2a2a" stroke-width="1.0"/>
<text x="482.70" y="230.10" font-size="6.6" font-weight="normal" fill="#000" textLength="23.20" lengthAdjust="spacingAndGlyphs" stroke="#000" stroke-width="0.17">p=0.009</text>
<path d="M482.10 235.90V233.10H507.90V235.90" fill="none" stroke="#2a2a2a" stroke-width="1.0"/>
<line x1="470.40" y1="232.50" x2="470.40" y2="300.20" stroke="#111" stroke-width="1.25" stroke-dasharray="1.4 0.8"/>
<line x1="421.60" y1="317.50" x2="466.70" y2="317.50" stroke="#111" stroke-width="1.0"/>
<line x1="470.90" y1="317.50" x2="515.80" y2="317.50" stroke="#666" stroke-width="1.0"/>
<text x="436.40" y="327.00" font-size="6.9" font-weight="bold" fill="#000" textLength="19.10" lengthAdjust="spacingAndGlyphs" stroke="#000" stroke-width="0.2">Day 30</text>
<text x="483.00" y="327.00" font-size="6.9" font-weight="bold" fill="#000" textLength="23.30" lengthAdjust="spacingAndGlyphs" stroke="#000" stroke-width="0.2">Day 100</text>
</svg>
</body></html>
